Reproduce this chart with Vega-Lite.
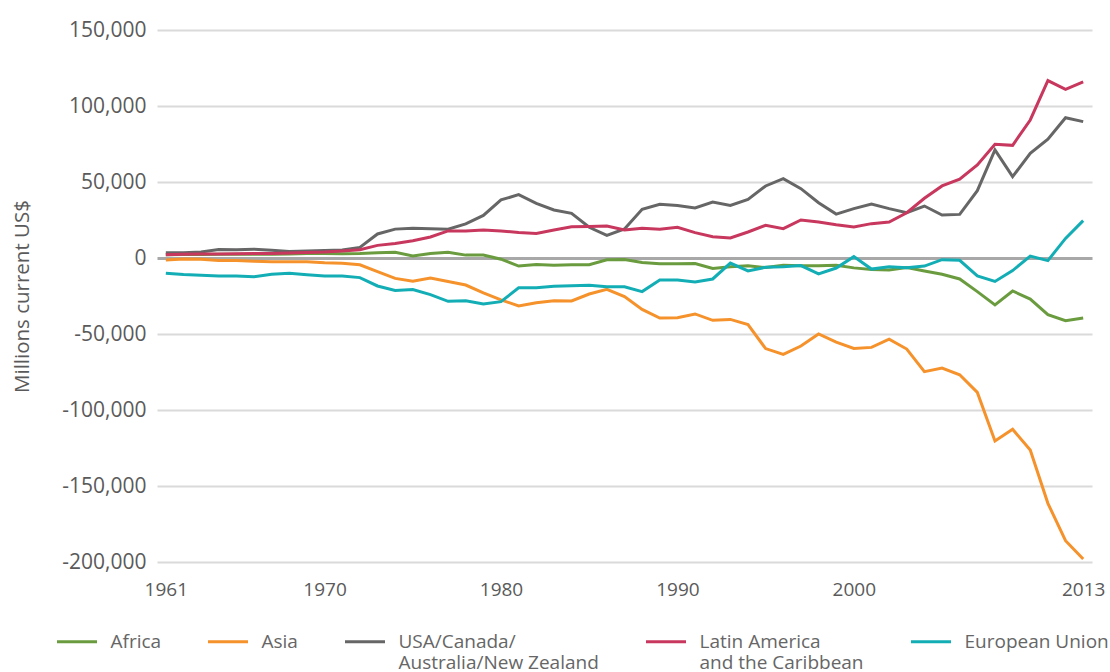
{
  "$schema": "https://vega.github.io/schema/vega-lite/v6.json",
  "width": 935,
  "height": 532,
  "autosize": "none",
  "padding": {"left": 157, "top": 30, "right": 18, "bottom": 110},
  "background": "white",
  "config": {
    "view": {"stroke": null},
    "font": "Open Sans"
  },
  "data": {
    "values": [
      {"year":1961,"region":"Africa","value":2200},{"year":1962,"region":"Africa","value":2300},{"year":1963,"region":"Africa","value":2300},{"year":1964,"region":"Africa","value":2400},{"year":1965,"region":"Africa","value":2400},{"year":1966,"region":"Africa","value":2400},{"year":1967,"region":"Africa","value":2500},{"year":1968,"region":"Africa","value":2700},{"year":1969,"region":"Africa","value":2900},{"year":1970,"region":"Africa","value":3000},{"year":1971,"region":"Africa","value":2800},{"year":1972,"region":"Africa","value":3000},{"year":1973,"region":"Africa","value":3500},{"year":1974,"region":"Africa","value":3800},{"year":1975,"region":"Africa","value":1400},{"year":1976,"region":"Africa","value":3000},{"year":1977,"region":"Africa","value":3700},{"year":1978,"region":"Africa","value":1900},{"year":1979,"region":"Africa","value":2000},{"year":1980,"region":"Africa","value":-800},{"year":1981,"region":"Africa","value":-5300},{"year":1982,"region":"Africa","value":-4300},{"year":1983,"region":"Africa","value":-4800},{"year":1984,"region":"Africa","value":-4400},{"year":1985,"region":"Africa","value":-4400},{"year":1986,"region":"Africa","value":-1200},{"year":1987,"region":"Africa","value":-1000},{"year":1988,"region":"Africa","value":-2900},{"year":1989,"region":"Africa","value":-3800},{"year":1990,"region":"Africa","value":-3800},{"year":1991,"region":"Africa","value":-3600},{"year":1992,"region":"Africa","value":-6900},{"year":1993,"region":"Africa","value":-5700},{"year":1994,"region":"Africa","value":-5100},{"year":1995,"region":"Africa","value":-6300},{"year":1996,"region":"Africa","value":-4700},{"year":1997,"region":"Africa","value":-5100},{"year":1998,"region":"Africa","value":-5100},{"year":1999,"region":"Africa","value":-4800},{"year":2000,"region":"Africa","value":-6500},{"year":2001,"region":"Africa","value":-7500},{"year":2002,"region":"Africa","value":-7900},{"year":2003,"region":"Africa","value":-6300},{"year":2004,"region":"Africa","value":-8600},{"year":2005,"region":"Africa","value":-10700},{"year":2006,"region":"Africa","value":-13800},{"year":2007,"region":"Africa","value":-22100},{"year":2008,"region":"Africa","value":-30900},{"year":2009,"region":"Africa","value":-21700},{"year":2010,"region":"Africa","value":-27000},{"year":2011,"region":"Africa","value":-37300},{"year":2012,"region":"Africa","value":-41200},{"year":2013,"region":"Africa","value":-39500},

      {"year":1961,"region":"Asia","value":-1300},{"year":1962,"region":"Asia","value":-700},{"year":1963,"region":"Asia","value":-900},{"year":1964,"region":"Asia","value":-1700},{"year":1965,"region":"Asia","value":-1700},{"year":1966,"region":"Asia","value":-2100},{"year":1967,"region":"Asia","value":-2500},{"year":1968,"region":"Asia","value":-2500},{"year":1969,"region":"Asia","value":-2500},{"year":1970,"region":"Asia","value":-3200},{"year":1971,"region":"Asia","value":-3400},{"year":1972,"region":"Asia","value":-4500},{"year":1973,"region":"Asia","value":-9000},{"year":1974,"region":"Asia","value":-13400},{"year":1975,"region":"Asia","value":-15300},{"year":1976,"region":"Asia","value":-13200},{"year":1977,"region":"Asia","value":-15400},{"year":1978,"region":"Asia","value":-17800},{"year":1979,"region":"Asia","value":-23000},{"year":1980,"region":"Asia","value":-27500},{"year":1981,"region":"Asia","value":-31600},{"year":1982,"region":"Asia","value":-29400},{"year":1983,"region":"Asia","value":-28100},{"year":1984,"region":"Asia","value":-28300},{"year":1985,"region":"Asia","value":-23700},{"year":1986,"region":"Asia","value":-20600},{"year":1987,"region":"Asia","value":-25400},{"year":1988,"region":"Asia","value":-33800},{"year":1989,"region":"Asia","value":-39500},{"year":1990,"region":"Asia","value":-39300},{"year":1991,"region":"Asia","value":-36800},{"year":1992,"region":"Asia","value":-41000},{"year":1993,"region":"Asia","value":-40400},{"year":1994,"region":"Asia","value":-43800},{"year":1995,"region":"Asia","value":-59600},{"year":1996,"region":"Asia","value":-63400},{"year":1997,"region":"Asia","value":-57900},{"year":1998,"region":"Asia","value":-50000},{"year":1999,"region":"Asia","value":-55300},{"year":2000,"region":"Asia","value":-59500},{"year":2001,"region":"Asia","value":-58800},{"year":2002,"region":"Asia","value":-53400},{"year":2003,"region":"Asia","value":-59900},{"year":2004,"region":"Asia","value":-74800},{"year":2005,"region":"Asia","value":-72400},{"year":2006,"region":"Asia","value":-76800},{"year":2007,"region":"Asia","value":-88400},{"year":2008,"region":"Asia","value":-120400},{"year":2009,"region":"Asia","value":-112700},{"year":2010,"region":"Asia","value":-126300},{"year":2011,"region":"Asia","value":-161400},{"year":2012,"region":"Asia","value":-186000},{"year":2013,"region":"Asia","value":-198000},

      {"year":1961,"region":"USA/Canada/Australia/New Zealand","value":3500},{"year":1962,"region":"USA/Canada/Australia/New Zealand","value":3500},{"year":1963,"region":"USA/Canada/Australia/New Zealand","value":4000},{"year":1964,"region":"USA/Canada/Australia/New Zealand","value":5600},{"year":1965,"region":"USA/Canada/Australia/New Zealand","value":5400},{"year":1966,"region":"USA/Canada/Australia/New Zealand","value":5800},{"year":1967,"region":"USA/Canada/Australia/New Zealand","value":5100},{"year":1968,"region":"USA/Canada/Australia/New Zealand","value":4200},{"year":1969,"region":"USA/Canada/Australia/New Zealand","value":4600},{"year":1970,"region":"USA/Canada/Australia/New Zealand","value":5000},{"year":1971,"region":"USA/Canada/Australia/New Zealand","value":5300},{"year":1972,"region":"USA/Canada/Australia/New Zealand","value":7000},{"year":1973,"region":"USA/Canada/Australia/New Zealand","value":15800},{"year":1974,"region":"USA/Canada/Australia/New Zealand","value":19000},{"year":1975,"region":"USA/Canada/Australia/New Zealand","value":19500},{"year":1976,"region":"USA/Canada/Australia/New Zealand","value":19300},{"year":1977,"region":"USA/Canada/Australia/New Zealand","value":18900},{"year":1978,"region":"USA/Canada/Australia/New Zealand","value":22400},{"year":1979,"region":"USA/Canada/Australia/New Zealand","value":28000},{"year":1980,"region":"USA/Canada/Australia/New Zealand","value":38200},{"year":1981,"region":"USA/Canada/Australia/New Zealand","value":41700},{"year":1982,"region":"USA/Canada/Australia/New Zealand","value":36000},{"year":1983,"region":"USA/Canada/Australia/New Zealand","value":31600},{"year":1984,"region":"USA/Canada/Australia/New Zealand","value":29400},{"year":1985,"region":"USA/Canada/Australia/New Zealand","value":20200},{"year":1986,"region":"USA/Canada/Australia/New Zealand","value":14900},{"year":1987,"region":"USA/Canada/Australia/New Zealand","value":19100},{"year":1988,"region":"USA/Canada/Australia/New Zealand","value":32000},{"year":1989,"region":"USA/Canada/Australia/New Zealand","value":35300},{"year":1990,"region":"USA/Canada/Australia/New Zealand","value":34600},{"year":1991,"region":"USA/Canada/Australia/New Zealand","value":32900},{"year":1992,"region":"USA/Canada/Australia/New Zealand","value":36800},{"year":1993,"region":"USA/Canada/Australia/New Zealand","value":34600},{"year":1994,"region":"USA/Canada/Australia/New Zealand","value":38600},{"year":1995,"region":"USA/Canada/Australia/New Zealand","value":47400},{"year":1996,"region":"USA/Canada/Australia/New Zealand","value":52200},{"year":1997,"region":"USA/Canada/Australia/New Zealand","value":45600},{"year":1998,"region":"USA/Canada/Australia/New Zealand","value":36400},{"year":1999,"region":"USA/Canada/Australia/New Zealand","value":28900},{"year":2000,"region":"USA/Canada/Australia/New Zealand","value":32500},{"year":2001,"region":"USA/Canada/Australia/New Zealand","value":35500},{"year":2002,"region":"USA/Canada/Australia/New Zealand","value":32500},{"year":2003,"region":"USA/Canada/Australia/New Zealand","value":29800},{"year":2004,"region":"USA/Canada/Australia/New Zealand","value":34200},{"year":2005,"region":"USA/Canada/Australia/New Zealand","value":28300},{"year":2006,"region":"USA/Canada/Australia/New Zealand","value":28700},{"year":2007,"region":"USA/Canada/Australia/New Zealand","value":44300},{"year":2008,"region":"USA/Canada/Australia/New Zealand","value":71100},{"year":2009,"region":"USA/Canada/Australia/New Zealand","value":53500},{"year":2010,"region":"USA/Canada/Australia/New Zealand","value":68900},{"year":2011,"region":"USA/Canada/Australia/New Zealand","value":78100},{"year":2012,"region":"USA/Canada/Australia/New Zealand","value":92300},{"year":2013,"region":"USA/Canada/Australia/New Zealand","value":89700},

      {"year":1961,"region":"Latin America and the Caribbean","value":2200},{"year":1962,"region":"Latin America and the Caribbean","value":2500},{"year":1963,"region":"Latin America and the Caribbean","value":2600},{"year":1964,"region":"Latin America and the Caribbean","value":2700},{"year":1965,"region":"Latin America and the Caribbean","value":2800},{"year":1966,"region":"Latin America and the Caribbean","value":2900},{"year":1967,"region":"Latin America and the Caribbean","value":3000},{"year":1968,"region":"Latin America and the Caribbean","value":3300},{"year":1969,"region":"Latin America and the Caribbean","value":3600},{"year":1970,"region":"Latin America and the Caribbean","value":3900},{"year":1971,"region":"Latin America and the Caribbean","value":4600},{"year":1972,"region":"Latin America and the Caribbean","value":5500},{"year":1973,"region":"Latin America and the Caribbean","value":8300},{"year":1974,"region":"Latin America and the Caribbean","value":9600},{"year":1975,"region":"Latin America and the Caribbean","value":11400},{"year":1976,"region":"Latin America and the Caribbean","value":13800},{"year":1977,"region":"Latin America and the Caribbean","value":17800},{"year":1978,"region":"Latin America and the Caribbean","value":17700},{"year":1979,"region":"Latin America and the Caribbean","value":18400},{"year":1980,"region":"Latin America and the Caribbean","value":17800},{"year":1981,"region":"Latin America and the Caribbean","value":16700},{"year":1982,"region":"Latin America and the Caribbean","value":16200},{"year":1983,"region":"Latin America and the Caribbean","value":18400},{"year":1984,"region":"Latin America and the Caribbean","value":20600},{"year":1985,"region":"Latin America and the Caribbean","value":20800},{"year":1986,"region":"Latin America and the Caribbean","value":21100},{"year":1987,"region":"Latin America and the Caribbean","value":18400},{"year":1988,"region":"Latin America and the Caribbean","value":19500},{"year":1989,"region":"Latin America and the Caribbean","value":18900},{"year":1990,"region":"Latin America and the Caribbean","value":20200},{"year":1991,"region":"Latin America and the Caribbean","value":16700},{"year":1992,"region":"Latin America and the Caribbean","value":14000},{"year":1993,"region":"Latin America and the Caribbean","value":13200},{"year":1994,"region":"Latin America and the Caribbean","value":17100},{"year":1995,"region":"Latin America and the Caribbean","value":21500},{"year":1996,"region":"Latin America and the Caribbean","value":19300},{"year":1997,"region":"Latin America and the Caribbean","value":25000},{"year":1998,"region":"Latin America and the Caribbean","value":23700},{"year":1999,"region":"Latin America and the Caribbean","value":21900},{"year":2000,"region":"Latin America and the Caribbean","value":20400},{"year":2001,"region":"Latin America and the Caribbean","value":22600},{"year":2002,"region":"Latin America and the Caribbean","value":23700},{"year":2003,"region":"Latin America and the Caribbean","value":29800},{"year":2004,"region":"Latin America and the Caribbean","value":39300},{"year":2005,"region":"Latin America and the Caribbean","value":47400},{"year":2006,"region":"Latin America and the Caribbean","value":51800},{"year":2007,"region":"Latin America and the Caribbean","value":61200},{"year":2008,"region":"Latin America and the Caribbean","value":74800},{"year":2009,"region":"Latin America and the Caribbean","value":74100},{"year":2010,"region":"Latin America and the Caribbean","value":90800},{"year":2011,"region":"Latin America and the Caribbean","value":116700},{"year":2012,"region":"Latin America and the Caribbean","value":111000},{"year":2013,"region":"Latin America and the Caribbean","value":115800},

      {"year":1961,"region":"European Union","value":-10100},{"year":1962,"region":"European Union","value":-10900},{"year":1963,"region":"European Union","value":-11300},{"year":1964,"region":"European Union","value":-11800},{"year":1965,"region":"European Union","value":-11800},{"year":1966,"region":"European Union","value":-12300},{"year":1967,"region":"European Union","value":-10700},{"year":1968,"region":"European Union","value":-10100},{"year":1969,"region":"European Union","value":-11000},{"year":1970,"region":"European Union","value":-11800},{"year":1971,"region":"European Union","value":-11800},{"year":1972,"region":"European Union","value":-12900},{"year":1973,"region":"European Union","value":-18400},{"year":1974,"region":"European Union","value":-21300},{"year":1975,"region":"European Union","value":-20800},{"year":1976,"region":"European Union","value":-24100},{"year":1977,"region":"European Union","value":-28500},{"year":1978,"region":"European Union","value":-28100},{"year":1979,"region":"European Union","value":-30300},{"year":1980,"region":"European Union","value":-28700},{"year":1981,"region":"European Union","value":-19600},{"year":1982,"region":"European Union","value":-19500},{"year":1983,"region":"European Union","value":-18600},{"year":1984,"region":"European Union","value":-18200},{"year":1985,"region":"European Union","value":-18000},{"year":1986,"region":"European Union","value":-18900},{"year":1987,"region":"European Union","value":-18900},{"year":1988,"region":"European Union","value":-22100},{"year":1989,"region":"European Union","value":-14500},{"year":1990,"region":"European Union","value":-14500},{"year":1991,"region":"European Union","value":-15800},{"year":1992,"region":"European Union","value":-13800},{"year":1993,"region":"European Union","value":-3300},{"year":1994,"region":"European Union","value":-8500},{"year":1995,"region":"European Union","value":-6100},{"year":1996,"region":"European Union","value":-5700},{"year":1997,"region":"European Union","value":-5000},{"year":1998,"region":"European Union","value":-10500},{"year":1999,"region":"European Union","value":-6600},{"year":2000,"region":"European Union","value":900},{"year":2001,"region":"European Union","value":-7300},{"year":2002,"region":"European Union","value":-5700},{"year":2003,"region":"European Union","value":-6400},{"year":2004,"region":"European Union","value":-5300},{"year":2005,"region":"European Union","value":-1100},{"year":2006,"region":"European Union","value":-1500},{"year":2007,"region":"European Union","value":-11800},{"year":2008,"region":"European Union","value":-15400},{"year":2009,"region":"European Union","value":-8300},{"year":2010,"region":"European Union","value":1300},{"year":2011,"region":"European Union","value":-1700},{"year":2012,"region":"European Union","value":12900},{"year":2013,"region":"European Union","value":24600}
    ]
  },
  "mark": {"type": "line", "strokeWidth": 3, "strokeJoin": "miter"},
  "encoding": {
    "x": {
      "field": "year",
      "type": "quantitative",
      "scale": {"domain": [1960.5, 2013.5], "nice": false, "zero": false},
      "axis": {
        "values": [1961, 1970, 1980, 1990, 2000, 2013],
        "format": "d",
        "title": null,
        "grid": false,
        "domain": false,
        "ticks": false,
        "labelFont": "Open Sans",
        "labelFontSize": 19,
        "labelColor": "#5a5a5a",
        "labelPadding": 18,
        "labelFlush": false
      }
    },
    "y": {
      "field": "value",
      "type": "quantitative",
      "scale": {"domain": [-200000, 150000], "nice": false},
      "axis": {
        "values": [-200000, -150000, -100000, -50000, 0, 50000, 100000, 150000],
        "labelExpr": "replace(format(datum.value, ','), '\u2212', '-')",
        "title": "Millions current US$",
        "titleFont": "Open Sans",
        "titleFontSize": 20.5,
        "titleFontWeight": "normal",
        "titleColor": "#5a5a5a",
        "titleX": -135,
        "titleY": 266,
        "titleAlign": "center",
        "titleBaseline": "middle",
        "titleAngle": -90,
        "domain": false,
        "ticks": false,
        "labelFont": "Open Sans",
        "labelFontSize": 21,
        "labelColor": "#5a5a5a",
        "labelPadding": 11,
        "grid": true,
        "gridColor": {"condition": {"test": "datum.value === 0", "value": "#a8a8a8"}, "value": "#dadada"},
        "gridWidth": {"condition": {"test": "datum.value === 0", "value": 3}, "value": 2}
      }
    },
    "color": {
      "field": "region",
      "type": "nominal",
      "sort": ["Africa", "Asia", "USA/Canada/Australia/New Zealand", "Latin America and the Caribbean", "European Union"],
      "scale": {
        "domain": ["Africa", "Asia", "USA/Canada/Australia/New Zealand", "Latin America and the Caribbean", "European Union"],
        "range": ["#6a9c3f", "#f5922b", "#666666", "#c8375d", "#13aeb5"]
      },
      "legend": {
        "title": null,
        "orient": "none",
        "legendX": -101.5,
        "legendY": 590,
        "direction": "horizontal",
        "columns": 5,
        "columnPadding": 40,
        "symbolType": "stroke",
        "symbolSize": 1600,
        "symbolStrokeWidth": 3,
        "labelFont": "Open Sans",
        "labelFontSize": 19,
        "labelColor": "#666666",
        "labelOffset": 12,
        "labelLimit": 400,
        "labelBaseline": "middle",
        "labelExpr": "datum.label == 'USA/Canada/Australia/New Zealand' ? ['USA/Canada/', 'Australia/New Zealand'] : datum.label == 'Latin America and the Caribbean' ? ['Latin America', 'and the Caribbean'] : [datum.label, ' ']"
      }
    }
  }
}
